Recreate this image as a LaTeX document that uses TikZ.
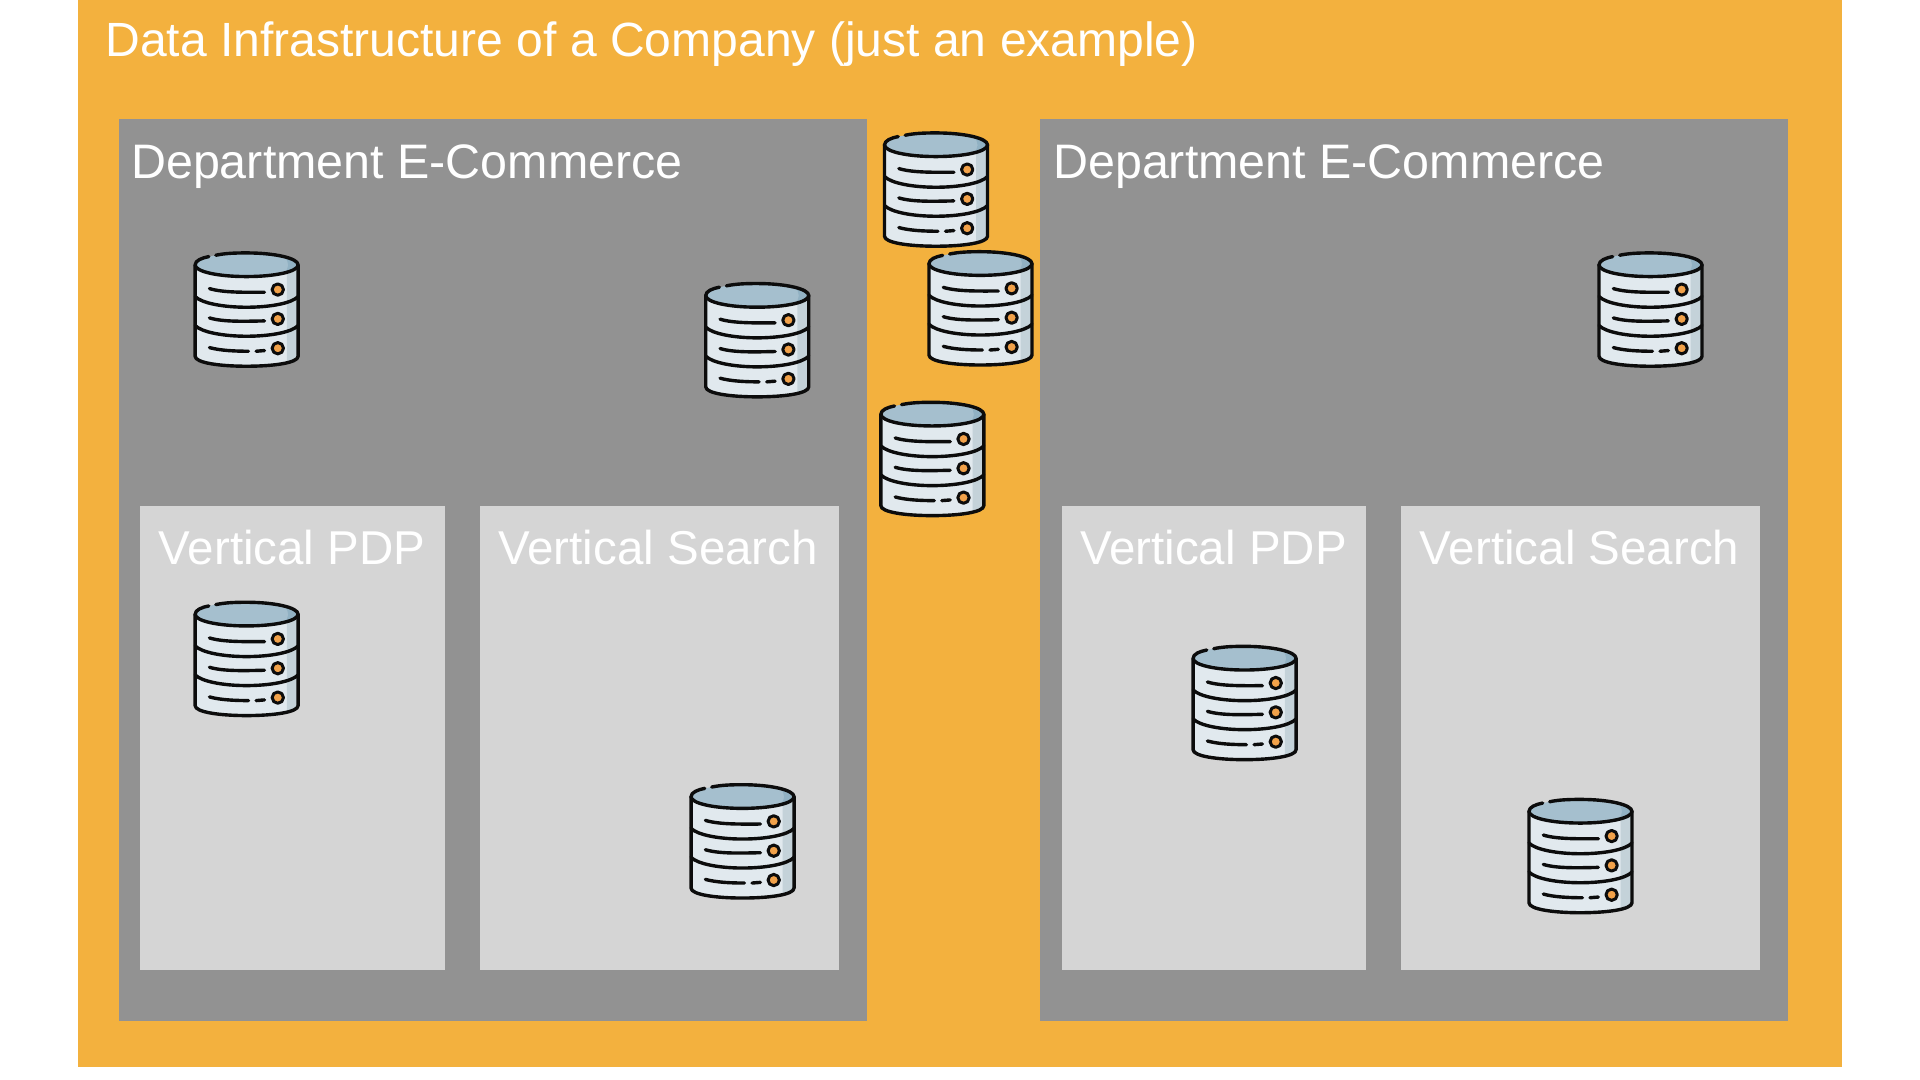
\documentclass[tikz,border=0pt]{standalone}
\usepackage{fontspec}
\setmainfont{Liberation Sans}
\definecolor{orangebg}{HTML}{F3B13E}
\definecolor{greybox}{HTML}{929292}
\definecolor{lightbox}{HTML}{D5D5D5}
\definecolor{dbbody}{HTML}{E1E9EE}
\definecolor{dbshade}{HTML}{C4D2D9}
\definecolor{dbtop}{HTML}{A5BFCE}
\definecolor{dbtopd}{HTML}{91B1C3}
\definecolor{dbink}{HTML}{0C0C0C}
\definecolor{dbdot}{HTML}{F2A24A}
\tikzset{
  company/.style={fill=orangebg,draw=none},
  dept/.style={fill=greybox,draw=none},
  vertical/.style={fill=lightbox,draw=none},
  titletext/.style={anchor=base west,inner sep=0pt,text=white,font=\fontsize{48.05}{56}\selectfont},
  depttext/.style={anchor=base west,inner sep=0pt,text=white,font=\fontsize{48.4}{56}\selectfont},
  verttext/.style={anchor=base,inner sep=0pt,text=white,font=\fontsize{47.5}{56}\selectfont},
  dbicon/.pic={
    \begin{scope}[x=0.3333pt,y=-0.3333pt,shift={(-70,-65)},line width=3.4pt,draw=dbink,line cap=round,line join=round]
      \fill[dbbody] (75,103) -- (75,377) .. controls (75,397) and (150,407) .. (229,407)
        .. controls (310,407) and (384,397) .. (384,377) -- (384,103) -- cycle;
      \fill[dbshade] (350,125) -- (350,394) .. controls (365,390) and (384,387) .. (384,377) -- (384,103) -- cycle;
      \fill[dbtop] (229,67) .. controls (315,67) and (384,83) .. (384,103)
        .. controls (384,123) and (315,138) .. (229,138)
        .. controls (143,138) and (75,123) .. (75,103)
        .. controls (75,83) and (143,67) .. (229,67) -- cycle;
      \fill[dbtopd] (340,78) .. controls (365,84) and (384,92) .. (384,103)
        .. controls (384,113) and (365,122) .. (340,128) .. controls (358,118) and (360,90) .. (340,78) -- cycle;
      \draw (137,74) .. controls (165,68) and (195,67) .. (229,67)
        .. controls (315,67) and (384,83) .. (384,103)
        .. controls (384,123) and (315,138) .. (229,138)
        .. controls (143,138) and (75,123) .. (75,103)
        .. controls (75,90) and (95,82) .. (116,78);
      \draw (75,103) -- (75,377) .. controls (75,397) and (150,407) .. (229,407)
        .. controls (310,407) and (384,397) .. (384,377) -- (384,103);
      \draw (75,198) .. controls (95,218) and (160,230) .. (229,230) .. controls (300,230) and (365,218) .. (384,198);
      \draw (75,285) .. controls (95,305) and (160,317) .. (229,317) .. controls (300,317) and (365,305) .. (384,285);
      \draw (118,174) .. controls (160,187) and (230,185) .. (283,185);
      \draw (118,262) .. controls (160,275) and (230,272) .. (283,271);
      \draw (118,351) .. controls (150,360) and (195,362) .. (235,362);
      \draw (258,362) -- (283,360);
      \draw[fill=dbdot,line width=3pt] (323,177) circle[radius=17];
      \draw[fill=dbdot,line width=3pt] (323,265) circle[radius=17];
      \draw[fill=dbdot,line width=3pt] (323,353) circle[radius=17];
    \end{scope}
  }
}
\begin{document}
\begin{tikzpicture}[x=1.22449pt,y=-1.22449pt]
  \useasboundingbox (0,0) rectangle (1568,882);
  \fill[white] (0,0) rectangle (1568,882);
  \fill[company] (64,0) rectangle (1504,871);
  \fill[dept] (97,97.5) rectangle (708,834);
  \fill[dept] (849.6,97.5) rectangle (1460,834);
  \fill[vertical] (114,413) rectangle (363.5,792.5);
  \fill[vertical] (392,413) rectangle (685,792.5);
  \fill[vertical] (867,413) rectangle (1115.6,792.5);
  \fill[vertical] (1144,413) rectangle (1437,792.5);
  \node[titletext] (title) at (86,46) {Data Infrastructure of a Company (just an example)};
  \node[depttext] (deptL) at (107,146) {Department E-Commerce};
  \node[depttext] (deptR) at (860,146) {Department E-Commerce};
  \node[verttext] (pdpL) at (238.5,461) {Vertical PDP};
  \node[verttext] (searchL) at (537.5,461) {Vertical Search};
  \node[verttext] (pdpR) at (991,461) {Vertical PDP};
  \node[verttext] (searchR) at (1290,461) {Vertical Search};
  \pic at (158,206) {dbicon};
  \pic at (575,231) {dbicon};
  \pic at (721,108) {dbicon};
  \pic at (757.3,205) {dbicon};
  \pic at (718,328) {dbicon};
  \pic at (1304.5,206) {dbicon};
  \pic at (158,491.3) {dbicon};
  \pic at (563,640.3) {dbicon};
  \pic at (973,527.3) {dbicon};
  \pic at (1247.3,652.3) {dbicon};
\end{tikzpicture}
\end{document}
